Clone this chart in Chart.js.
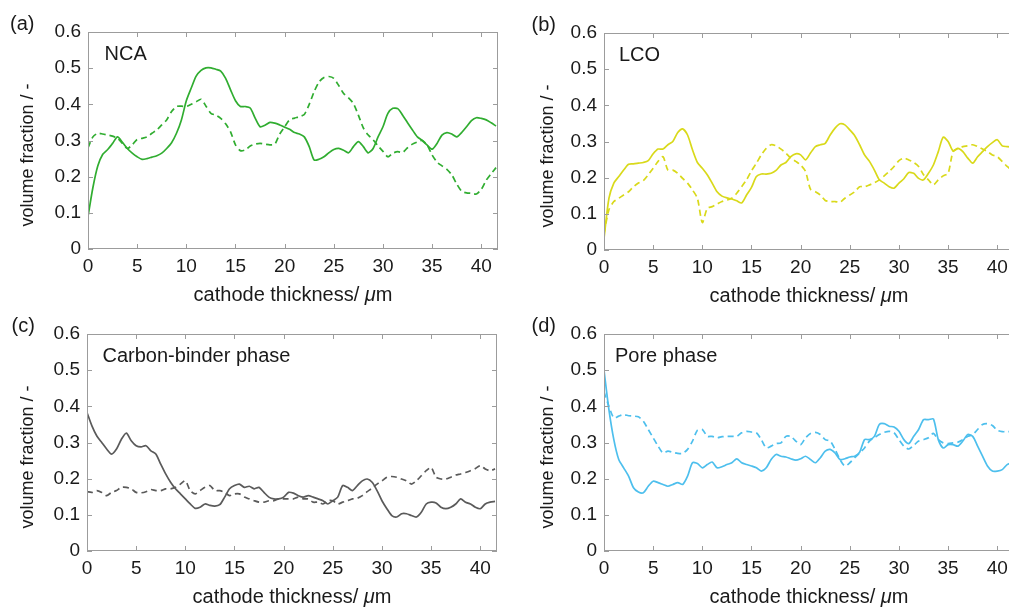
<!DOCTYPE html>
<html>
<head>
<meta charset="utf-8">
<script src="https://cdn.jsdelivr.net/npm/chart.js@4"></script>
<style>
  html, body { margin: 0; padding: 0; background: #fff; }
  body { width: 1009px; height: 607px; position: relative; overflow: hidden; }
  .panel { position: absolute; width: 505px; height: 306px; }
</style>
</head>
<body>
<div class="panel" style="left:0px;top:0px"><canvas id="chartA" width="505" height="306"></canvas></div>
<div class="panel" style="left:516px;top:1px"><canvas id="chartB" width="505" height="306"></canvas></div>
<div class="panel" style="left:-1px;top:302px"><canvas id="chartC" width="505" height="306"></canvas></div>
<div class="panel" style="left:516px;top:302px"><canvas id="chartD" width="505" height="306"></canvas></div>
<script>
/* volume fraction profiles along the cathode — four panels */

// cathode thickness in µm (sample positions)
const thickness = [
  0, 0.5, 1, 1.5, 2, 2.5, 3, 3.5, 4, 4.5,
  5, 5.5, 6, 6.5, 7, 7.5, 8, 8.5, 9, 9.5,
  10, 10.5, 11, 11.5, 12, 12.5, 13, 13.5, 14, 14.5,
  15, 15.5, 16, 16.5, 17, 17.5, 18, 18.5, 19, 19.5,
  20, 20.5, 21, 21.5, 22, 22.5, 23, 23.5, 24, 24.5,
  25, 25.5, 26, 26.5, 27, 27.5, 28, 28.5, 29, 29.5,
  30, 30.5, 31, 31.5, 32, 32.5, 33, 33.5, 34, 34.5,
  35, 35.5, 36, 36.5, 37, 37.5, 38, 38.5, 39, 39.5,
  40, 40.5, 41, 41.5
];

const xTicks = [0, 5, 10, 15, 20, 25, 30, 35, 40];
const yTicks = [0, 0.1, 0.2, 0.3, 0.4, 0.5, 0.6];
const yTickLabels = ['0', '0.1', '0.2', '0.3', '0.4', '0.5', '0.6'];
const xMax = 41.7;

// (a) NCA
const ncaSolid = [
  0.09, 0.17, 0.23, 0.262, 0.275, 0.292, 0.31, 0.295, 0.278, 0.265,
  0.255, 0.248, 0.25, 0.254, 0.258, 0.265, 0.278, 0.294, 0.32, 0.357,
  0.41, 0.445, 0.478, 0.494, 0.501, 0.501, 0.497, 0.492, 0.472, 0.44,
  0.41, 0.394, 0.394, 0.39, 0.362, 0.338, 0.342, 0.35, 0.348, 0.343,
  0.337, 0.331, 0.322, 0.318, 0.31, 0.283, 0.246, 0.248, 0.255, 0.266,
  0.275, 0.278, 0.273, 0.266, 0.283, 0.297, 0.283, 0.266, 0.278, 0.31,
  0.338, 0.375, 0.389, 0.388, 0.37, 0.349, 0.329, 0.31, 0.30, 0.287,
  0.276, 0.292, 0.315, 0.322, 0.318, 0.31, 0.322, 0.338, 0.355, 0.363,
  0.361, 0.357, 0.349, 0.34
];
const ncaDashed = [
  0.28, 0.31, 0.32, 0.318, 0.315, 0.312, 0.306, 0.292, 0.278, 0.288,
  0.303, 0.306, 0.31, 0.32, 0.329, 0.343, 0.357, 0.38, 0.394, 0.395,
  0.394, 0.40, 0.407, 0.414, 0.395, 0.375, 0.37, 0.361, 0.346, 0.324,
  0.288, 0.272, 0.274, 0.285, 0.29, 0.292, 0.29, 0.288, 0.29, 0.318,
  0.338, 0.357, 0.362, 0.366, 0.372, 0.4, 0.435, 0.462, 0.474, 0.477,
  0.472, 0.452, 0.43, 0.418, 0.402, 0.37, 0.335, 0.315, 0.302, 0.285,
  0.27, 0.255, 0.265, 0.269, 0.267, 0.28, 0.29, 0.296, 0.3, 0.287,
  0.26, 0.24, 0.23, 0.22, 0.205, 0.18, 0.16, 0.155, 0.154, 0.152,
  0.165, 0.19, 0.208, 0.225
];

// (b) LCO
const lcoSolid = [
  0.032, 0.143, 0.185, 0.203, 0.221, 0.237, 0.238, 0.24, 0.242, 0.247,
  0.266, 0.279, 0.279, 0.291, 0.30, 0.325, 0.335, 0.318, 0.277, 0.242,
  0.226, 0.208, 0.185, 0.161, 0.149, 0.144, 0.141, 0.136, 0.13, 0.152,
  0.173, 0.203, 0.21, 0.21, 0.212, 0.22, 0.235, 0.242, 0.258, 0.266,
  0.263, 0.249, 0.268, 0.286, 0.291, 0.295, 0.318, 0.337, 0.349, 0.346,
  0.332, 0.316, 0.291, 0.263, 0.245, 0.221, 0.194, 0.185, 0.175, 0.171,
  0.185, 0.197, 0.214, 0.212, 0.198, 0.194, 0.212, 0.235, 0.272, 0.312,
  0.30, 0.274, 0.281, 0.272, 0.254, 0.24, 0.258, 0.272, 0.286, 0.297,
  0.305, 0.288, 0.286, 0.285
];
const lcoDashed = [
  0.046, 0.111, 0.134, 0.143, 0.152, 0.161, 0.175, 0.185, 0.192, 0.208,
  0.226, 0.245, 0.258, 0.221, 0.221, 0.212, 0.198, 0.185, 0.166, 0.143,
  0.076, 0.115, 0.12, 0.127, 0.134, 0.138, 0.143, 0.157, 0.175, 0.194,
  0.219, 0.24, 0.263, 0.281, 0.291, 0.288, 0.279, 0.268, 0.254, 0.245,
  0.235, 0.217, 0.168, 0.161, 0.152, 0.137, 0.134, 0.134, 0.132, 0.143,
  0.152, 0.161, 0.175, 0.175, 0.18, 0.186, 0.194, 0.205, 0.217, 0.231,
  0.247, 0.254, 0.249, 0.242, 0.231, 0.208, 0.194, 0.18, 0.194, 0.205,
  0.212, 0.272, 0.281, 0.286, 0.288, 0.291, 0.286, 0.279, 0.272, 0.263,
  0.258, 0.245, 0.231, 0.22
];

// (c) carbon-binder phase
const cbSolid = [
  0.383, 0.346, 0.318, 0.30, 0.282, 0.268, 0.282, 0.309, 0.326, 0.305,
  0.291, 0.288, 0.291, 0.277, 0.268, 0.24, 0.213, 0.19, 0.172, 0.158,
  0.144, 0.13, 0.118, 0.121, 0.13, 0.126, 0.124, 0.128, 0.149, 0.172,
  0.181, 0.185, 0.176, 0.179, 0.172, 0.176, 0.162, 0.149, 0.144, 0.144,
  0.149, 0.162, 0.16, 0.153, 0.149, 0.153, 0.149, 0.144, 0.139, 0.13,
  0.139, 0.149, 0.181, 0.176, 0.167, 0.181, 0.194, 0.199, 0.19, 0.167,
  0.139, 0.117, 0.098, 0.094, 0.103, 0.103, 0.098, 0.094, 0.107, 0.13,
  0.135, 0.133, 0.121, 0.117, 0.121, 0.13, 0.144, 0.135, 0.13, 0.121,
  0.117, 0.13, 0.135, 0.137
];
const cbDashed = [
  0.164, 0.162, 0.167, 0.162, 0.153, 0.162, 0.167, 0.176, 0.176, 0.172,
  0.162, 0.161, 0.164, 0.17, 0.167, 0.167, 0.172, 0.172, 0.176, 0.185,
  0.194, 0.167, 0.158, 0.167, 0.176, 0.181, 0.167, 0.167, 0.162, 0.153,
  0.158, 0.158, 0.149, 0.144, 0.139, 0.135, 0.135, 0.139, 0.139, 0.144,
  0.144, 0.144, 0.144, 0.149, 0.144, 0.144, 0.135, 0.135, 0.13, 0.139,
  0.139, 0.13, 0.135, 0.139, 0.144, 0.146, 0.153, 0.164, 0.174, 0.185,
  0.194, 0.204, 0.206, 0.204, 0.199, 0.194, 0.185, 0.194, 0.208, 0.222,
  0.231, 0.204, 0.199, 0.199, 0.204, 0.21, 0.213, 0.217, 0.222, 0.228,
  0.236, 0.227, 0.222, 0.227
];

// (d) pore phase
const poreSolid = [
  0.50, 0.391, 0.308, 0.253, 0.23, 0.207, 0.175, 0.163, 0.161, 0.179,
  0.193, 0.189, 0.184, 0.179, 0.184, 0.189, 0.184, 0.207, 0.244, 0.242,
  0.23, 0.239, 0.246, 0.23, 0.233, 0.239, 0.244, 0.255, 0.244, 0.239,
  0.235, 0.23, 0.221, 0.23, 0.253, 0.267, 0.262, 0.26, 0.255, 0.251,
  0.255, 0.262, 0.253, 0.244, 0.258, 0.276, 0.281, 0.271, 0.253, 0.255,
  0.26, 0.262, 0.273, 0.308, 0.308, 0.317, 0.35, 0.352, 0.345, 0.343,
  0.331, 0.308, 0.297, 0.317, 0.336, 0.363, 0.363, 0.365, 0.308, 0.285,
  0.294, 0.294, 0.29, 0.304, 0.322, 0.317, 0.29, 0.262, 0.235, 0.221,
  0.221, 0.225, 0.239, 0.245
];
const poreDashed = [
  0.44, 0.40, 0.368, 0.373, 0.377, 0.374, 0.373, 0.371, 0.359, 0.336,
  0.313, 0.29, 0.271, 0.276, 0.273, 0.27, 0.27, 0.281, 0.304, 0.334,
  0.336, 0.317, 0.317, 0.313, 0.316, 0.317, 0.317, 0.317, 0.327, 0.331,
  0.329, 0.327, 0.308, 0.285, 0.29, 0.297, 0.299, 0.317, 0.317, 0.304,
  0.294, 0.313, 0.325, 0.328, 0.322, 0.308, 0.304, 0.281, 0.253, 0.235,
  0.244, 0.258, 0.271, 0.285, 0.304, 0.313, 0.322, 0.328, 0.331, 0.327,
  0.308, 0.29, 0.282, 0.292, 0.304, 0.308, 0.313, 0.325, 0.308, 0.299,
  0.297, 0.299, 0.301, 0.308, 0.317, 0.322, 0.336, 0.35, 0.352, 0.347,
  0.334, 0.33, 0.33, 0.33
];

const FONT = '"Liberation Sans", Arial, Helvetica, sans-serif';
Chart.defaults.font.family = FONT;
Chart.defaults.font.size = 19;
Chart.defaults.color = '#1a1a1a';

/* ── FRAME, INWARD TICKS AND LABELS ──────────── */
const panelDecor = {
  id: 'panelDecor',
  afterDatasetsDraw(chart, args, opts) {
    const { ctx, chartArea: a, scales: { x, y } } = chart;
    ctx.save();

    ctx.strokeStyle = '#9c9c9c';
    ctx.lineWidth = 1;
    ctx.strokeRect(a.left + 0.5, a.top + 0.5, a.right - a.left - 1, a.bottom - a.top - 1);

    ctx.beginPath();
    xTicks.forEach(v => {
      const px = Math.round(x.getPixelForValue(v)) + 0.5;
      ctx.moveTo(px, a.bottom); ctx.lineTo(px, a.bottom - 5);
      ctx.moveTo(px, a.top);    ctx.lineTo(px, a.top + 5);
    });
    yTicks.forEach(v => {
      const py = Math.round(y.getPixelForValue(v)) + 0.5;
      ctx.moveTo(a.left, py);  ctx.lineTo(a.left + 5, py);
      ctx.moveTo(a.right, py); ctx.lineTo(a.right - 5, py);
    });
    ctx.stroke();

    ctx.fillStyle = '#1a1a1a';
    ctx.textBaseline = 'alphabetic';
    ctx.textAlign = 'left';

    // panel tag and phase name
    ctx.font = '20px ' + FONT;
    ctx.fillText(opts.tag, opts.tagX, 30);
    ctx.fillText(opts.name, a.left + opts.nameX, a.top + 27.5);

    // x title: "cathode thickness/ µm" with italic µ
    const p1 = 'cathode thickness/ ', p2 = 'μ', p3 = 'm';
    const normal = '20px ' + FONT, italic = 'italic 20px ' + FONT;
    ctx.font = normal; const w1 = ctx.measureText(p1).width, w3 = ctx.measureText(p3).width;
    ctx.font = italic; const w2 = ctx.measureText(p2).width;
    let sx = (a.left + a.right) / 2 - (w1 + w2 + w3) / 2;
    ctx.font = normal; ctx.fillText(p1, sx, 301); sx += w1;
    ctx.font = italic; ctx.fillText(p2, sx, 301); sx += w2;
    ctx.font = normal; ctx.fillText(p3, sx, 301);

    // y title
    ctx.font = '18px ' + FONT;
    ctx.translate(opts.yTitleX, 155);
    ctx.rotate(-Math.PI / 2);
    ctx.textAlign = 'center';
    ctx.fillText('volume fraction / -', 0, 0);

    ctx.restore();
  }
};

/* ── ONE PANEL ───────────────────────────────── */
function renderPanel(id, color, solid, dashed, decor) {
  const pts = vals => thickness.map((t, i) => ({ x: t, y: vals[i] }));
  return new Chart(document.getElementById(id), {
    type: 'line',
    data: {
      datasets: [
        { data: pts(solid),  borderColor: color, borderWidth: 1.7, pointRadius: 0, tension: 0.25 },
        { data: pts(dashed), borderColor: color, borderWidth: 1.7, pointRadius: 0, tension: 0.25,
          borderDash: [6, 4] }
      ]
    },
    options: {
      responsive: false, animation: false, devicePixelRatio: 1,
      layout: { padding: { top: 32, right: 7, left: 0, bottom: 0 } },
      plugins: { legend: { display: false }, tooltip: { enabled: false }, panelDecor: decor },
      scales: {
        x: {
          type: 'linear', min: 0, max: xMax,
          afterBuildTicks: s => { s.ticks = xTicks.map(v => ({ value: v })); },
          afterFit: s => { s.height = 57; },
          grid: { display: false, drawTicks: false },
          border: { display: false },
          ticks: { padding: 6, autoSkip: false, maxRotation: 0, color: '#1a1a1a' }
        },
        y: {
          min: 0, max: 0.6,
          afterBuildTicks: s => { s.ticks = yTicks.map(v => ({ value: v })); },
          afterFit: s => { s.width = 88; },
          grid: { display: false, drawTicks: false },
          border: { display: false },
          ticks: { padding: 7, autoSkip: false, color: '#1a1a1a',
                   callback: v => yTickLabels[yTicks.indexOf(v)] }
        }
      }
    },
    plugins: [panelDecor]
  });
}

renderPanel('chartA', '#30ad30', ncaSolid, ncaDashed,
  { tag: '(a)', tagX: 10, name: 'NCA', nameX: 16.5, yTitleX: 33 });
renderPanel('chartB', '#d9d91a', lcoSolid, lcoDashed,
  { tag: '(b)', tagX: 15.5, name: 'LCO', nameX: 15, yTitleX: 37 });
renderPanel('chartC', '#5a5a5a', cbSolid, cbDashed,
  { tag: '(c)', tagX: 12.5, name: 'Carbon-binder phase', nameX: 15.5, yTitleX: 34 });
renderPanel('chartD', '#4dbfed', poreSolid, poreDashed,
  { tag: '(d)', tagX: 15.5, name: 'Pore phase', nameX: 11, yTitleX: 37 });
</script>
</body>
</html>
